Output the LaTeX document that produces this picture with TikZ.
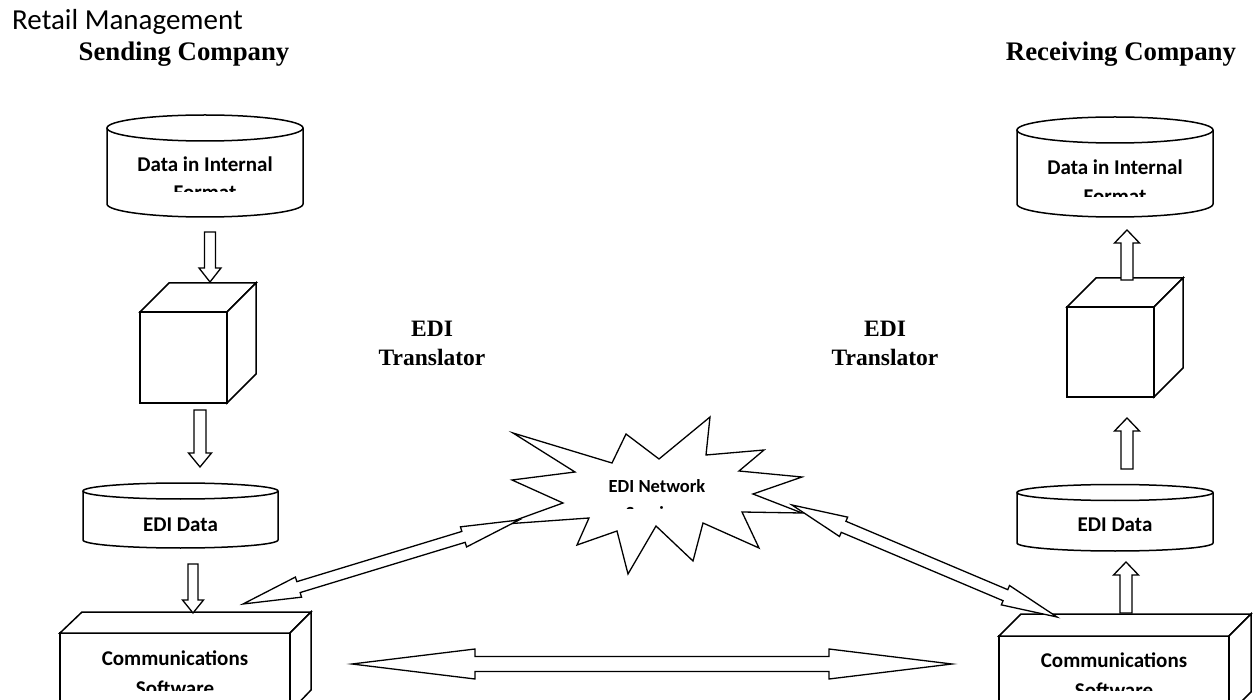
\documentclass[tikz,border=0pt]{standalone}
\usepackage{fontspec}
\setmainfont{Liberation Serif}
\newfontfamily\calib{Carlito}
\usetikzlibrary{calc}

\tikzset{
  outline/.style={draw=black, line width=1.5pt, fill=white, line join=miter},
  blk/.style={draw=black, line width=1.3pt, fill=white, line join=miter},
  lbl/.style={font=\calib\bfseries\fontsize{21}{25}\selectfont, inner sep=0pt, anchor=base},
  smalllbl/.style={font=\calib\bfseries\fontsize{18.5}{22}\selectfont, inner sep=0pt, anchor=base},
  head/.style={font=\bfseries\fontsize{26.8}{30}\selectfont, inner sep=0pt, anchor=base},
  trans/.style={font=\bfseries\fontsize{23.5}{28}\selectfont, inner sep=0pt, anchor=base},
}

% single block arrow from tail #1 to tip #2: shaft half-width #3, head half-width #4, head length #5
\newcommand{\blkone}[5]{%
  \coordinate (hb) at ($(#2)!#5!(#1)$);
  \draw[blk] ($(#1)!#3!90:(#2)$) -- ($(hb)!#3!-90:(#1)$) -- ($(hb)!#4!-90:(#1)$) -- (#2)
    -- ($(hb)!#4!90:(#1)$) -- ($(hb)!#3!90:(#1)$) -- ($(#1)!#3!-90:(#2)$) -- cycle;}

% double block arrow between tips #1 and #2
\newcommand{\blktwo}[5]{%
  \coordinate (ha) at ($(#1)!#5!(#2)$);
  \coordinate (hb) at ($(#2)!#5!(#1)$);
  \draw[blk] (#1) -- ($(ha)!#4!90:(#2)$) -- ($(ha)!#3!90:(#2)$) -- ($(hb)!#3!-90:(#1)$)
    -- ($(hb)!#4!-90:(#1)$) -- (#2) -- ($(hb)!#4!90:(#1)$) -- ($(hb)!#3!90:(#1)$)
    -- ($(ha)!#3!-90:(#2)$) -- ($(ha)!#4!-90:(#2)$) -- cycle;}

\begin{document}
\begin{tikzpicture}[x=1pt,y=-1pt]
\useasboundingbox (0,0) rectangle (1256,700);
\clip (0,0) rectangle (1256,700);

% ---------- headings ----------
\node[font=\calib\fontsize{29}{34}\selectfont, inner sep=0pt, anchor=base west] (title) at (12,29.5) {Retail Management};
\node[head] (sendco) at (184,61) {Sending Company};
\node[head] (recvco) at (1121,61) {Receiving Company};

\node[trans] (trLa) at (432,337) {EDI};
\node[trans] (trLb) at (432,366) {Translator};
\node[trans] (trRa) at (885,337) {EDI};
\node[trans] (trRb) at (885,366) {Translator};

% ---------- sending side ----------
% data store (internal format)
\draw[outline] (107,128) -- (107,204) arc[start angle=180, end angle=0, x radius=98, y radius=13] -- (303,128);
\draw[outline] (205,128) ellipse[x radius=98, y radius=13];
\begin{scope}
  \clip (110,142) rectangle (300,192);
  \node[lbl] (intL) at (205,171.5) {Data in Internal};
  \node[lbl] (intLb) at (205,200) {Format};
\end{scope}

% translator cube
\draw[outline] (140,312) rectangle (227,403);
\draw[outline] (140,312) -- (169,283) -- (256,283) -- (227,312) -- cycle;
\draw[outline] (227,312) -- (256,283) -- (256,374) -- (227,403) -- cycle;
\coordinate (cubeL) at (183.5,357.5);

% EDI data store
\draw[outline] (83,491) -- (83,540) arc[start angle=180, end angle=0, x radius=97.5, y radius=8] -- (278,491);
\draw[outline] (180.5,491) ellipse[x radius=97.5, y radius=8];
\node[lbl] (ediL) at (180.5,531.5) {EDI Data};

% communications box
\draw[outline] (60,633) rectangle (290,712);
\draw[outline] (60,633) -- (82,612) -- (311,612) -- (290,633) -- cycle;
\draw[outline] (290,633) -- (311,612) -- (311,690) -- (290,712) -- cycle;
\begin{scope}
  \clip (62,636) rectangle (288,690);
  \node[lbl] (comL) at (175,665) {Communications};
  \node[lbl] (comLb) at (175,695) {Software};
\end{scope}

% flow arrows (downwards)
\coordinate (a1t) at (210,232); \coordinate (a1h) at (210,282);
\coordinate (a2t) at (200,410); \coordinate (a2h) at (200,467);
\coordinate (a3t) at (193,564); \coordinate (a3h) at (193,613);
\blkone{a1t}{a1h}{5.5pt}{11pt}{14pt}
\blkone{a2t}{a2h}{6pt}{11.5pt}{14pt}
\blkone{a3t}{a3h}{5pt}{10.5pt}{13pt}

% ---------- receiving side ----------
\draw[outline] (1017,130) -- (1017,204) arc[start angle=180, end angle=0, x radius=98, y radius=13] -- (1213,130);
\draw[outline] (1115,130) ellipse[x radius=98, y radius=13];
\begin{scope}
  \clip (1020,144) rectangle (1210,197);
  \node[lbl] (intR) at (1115,174.5) {Data in Internal};
  \node[lbl] (intRb) at (1115,204) {Format};
\end{scope}

\draw[outline] (1067,307) rectangle (1154,397);
\draw[outline] (1067,307) -- (1096,278) -- (1183,278) -- (1154,307) -- cycle;
\draw[outline] (1154,307) -- (1183,278) -- (1183,368) -- (1154,397) -- cycle;
\coordinate (cubeR) at (1110.5,352);

\draw[outline] (1017,492.5) -- (1017,543) arc[start angle=180, end angle=0, x radius=98, y radius=8] -- (1213,492.5);
\draw[outline] (1115,492.5) ellipse[x radius=98, y radius=8];
\node[lbl] (ediR) at (1115,531.5) {EDI Data};

\draw[outline] (999,636) rectangle (1229,714);
\draw[outline] (999,636) -- (1021,614) -- (1251,614) -- (1229,636) -- cycle;
\draw[outline] (1229,636) -- (1251,614) -- (1251,692) -- (1229,714) -- cycle;
\begin{scope}
  \clip (1001,639) rectangle (1227,690);
  \node[lbl] (comR) at (1114,667) {Communications};
  \node[lbl] (comRb) at (1114,697) {Software};
\end{scope}

% flow arrows (upwards)
\coordinate (b1t) at (1127,280); \coordinate (b1h) at (1127,230);
\coordinate (b2t) at (1127,469); \coordinate (b2h) at (1127,418);
\coordinate (b3t) at (1126,613); \coordinate (b3h) at (1126,562);
\blkone{b1t}{b1h}{6pt}{12.5pt}{13pt}
\blkone{b2t}{b2h}{6pt}{12.5pt}{13pt}
\blkone{b3t}{b3h}{6pt}{12.5pt}{13pt}

% ---------- network service ----------
\draw[outline, line width=1.3pt] (513,433) -- (612,463) -- (626,434) -- (659,459) -- (710,417)
  -- (706,455) -- (764,450) -- (739,471) -- (802,477) -- (753,494) -- (802,513)
  -- (742,512) -- (759,548) -- (703,523) -- (693,561) -- (656,526) -- (628,574)
  -- (617,531) -- (577,545) -- (589,518) -- (505,524) -- (563,503) -- (512,480)
  -- (575,472) -- cycle;
\begin{scope}
  \clip (590,470) rectangle (730,508.5);
  \node[smalllbl] (net) at (657,492) {EDI Network};
  \node[smalllbl] (netb) at (657,519) {Services};
\end{scope}

% exchange arrows
\coordinate (d1a) at (243,604); \coordinate (d1b) at (519,520);
\coordinate (d2a) at (792,505); \coordinate (d2b) at (1057,617);
\coordinate (d3a) at (352,664); \coordinate (d3b) at (952,664);
\blktwo{d1a}{d1b}{5.7pt}{10.5pt}{58pt}
\blktwo{d2a}{d2b}{6pt}{10.5pt}{56pt}
\blktwo{d3a}{d3b}{7.5pt}{15pt}{123pt}
\end{tikzpicture}
\end{document}
